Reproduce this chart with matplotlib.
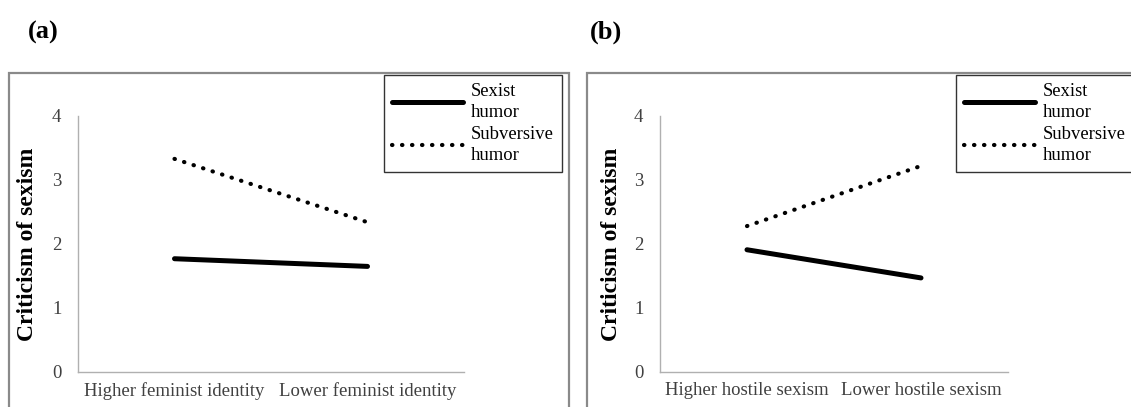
import matplotlib
matplotlib.use("Agg")
import matplotlib.pyplot as plt
from matplotlib.patches import Rectangle
from matplotlib.lines import Line2D

plt.rcParams['font.family'] = ['Liberation Serif', 'DejaVu Serif']

# data
series_names = ['Sexist\nhumor', 'Subversive\nhumor']
cats_a = ['Higher feminist identity', 'Lower feminist identity']
sexist_a = [1.77, 1.65]
subversive_a = [3.33, 2.34]
cats_b = ['Higher hostile sexism', 'Lower hostile sexism']
sexist_b = [1.91, 1.47]
subversive_b = [2.28, 3.22]
yticks = [0, 1, 2, 3, 4]

W, H = 1131, 407
fig = plt.figure(figsize=(W / 100, H / 100), dpi=100)

def fx(px):
    return px / W

def fy(py):
    return 1 - py / H

text_col = '#404040'
solid_kw = dict(color='black', lw=3.6, solid_capstyle='round')
dot_kw = dict(color='black', lw=3.0, linestyle=(0, (0.1, 2.3)), dash_capstyle='round')


def panel(left, right, cats, sexist, subversive, label_x, legend_x, border_x0, border_x1, tag, tag_x):
    # gray frame around the panel (partly cut off like the original)
    fig.patches.append(Rectangle((fx(border_x0), fy(600)), fx(border_x1 - border_x0), fy(73) - fy(600),
                                 transform=fig.transFigure, fill=False, edgecolor='#8a8a8a', lw=1.6))
    fig.text(fx(tag_x), fy(39), tag, fontsize=19, fontweight='bold', ha='left', va='baseline')

    ax = fig.add_axes([fx(left), fy(372), fx(right - left), fy(116) - fy(372)])
    x = [0.5, 1.5]
    ax.plot(x, sexist, **solid_kw)
    ax.plot(x, subversive, **dot_kw)
    ax.set_xlim(0, 2)
    ax.set_ylim(0, 4)
    ax.set_xticks(x)
    ax.set_xticklabels(cats, fontsize=13.5, color=text_col)
    ax.set_yticks(yticks)
    ax.set_yticklabels([str(t) for t in yticks], fontsize=13.5, color=text_col)
    ax.tick_params(axis='both', length=0)
    ax.tick_params(axis='y', pad=12)
    ax.tick_params(axis='x', pad=7)
    for s in ['top', 'right']:
        ax.spines[s].set_visible(False)
    for s in ['left', 'bottom']:
        ax.spines[s].set_color('#b0b0b0')
        ax.spines[s].set_linewidth(1.0)
    ax.set_ylabel('Criticism of sexism', fontsize=17, fontweight='bold')
    ax.yaxis.set_label_coords(label_x, 0.5)

    handles = [Line2D([], [], **solid_kw), Line2D([], [], **dot_kw)]
    leg = fig.legend(handles, series_names, loc='upper left',
                     bbox_to_anchor=(fx(legend_x), fy(75)), bbox_transform=fig.transFigure,
                     fontsize=13.4, frameon=True, fancybox=False, borderaxespad=0,
                     handlelength=3.8, handletextpad=0.4, labelspacing=0.25,
                     borderpad=0.45)
    leg.get_frame().set_edgecolor('black')
    leg.get_frame().set_linewidth(1.0)
    for t in leg.get_texts():
        t.set_linespacing(1.3)
    return ax


panel(78, 464, cats_a, sexist_a, subversive_a, -40 / 386, 384, 9, 569, '(a)', 28)
panel(660, 1008, cats_b, sexist_b, subversive_b, -38 / 348, 956, 587, 1160, '(b)', 590)

fig.savefig('out.png', dpi=100)
